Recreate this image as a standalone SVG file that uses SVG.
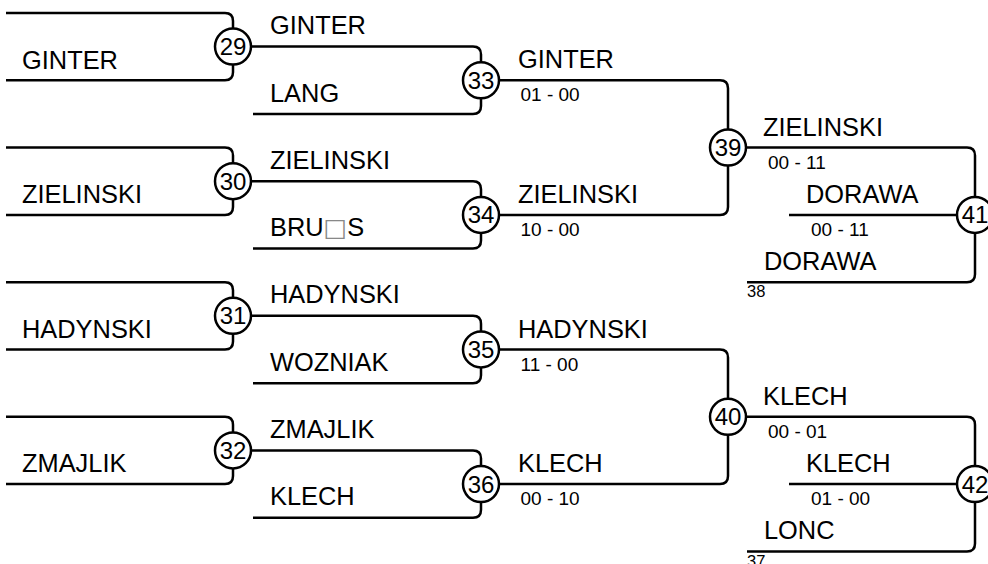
<svg xmlns="http://www.w3.org/2000/svg" width="988" height="564" viewBox="0 0 988 564">
<style>
.ln{fill:none;stroke:#000;stroke-width:2.5;stroke-linecap:butt}
.nd circle{fill:#fff;stroke:#000;stroke-width:2.5}
.nd text{font-family:"Liberation Sans",Arial,sans-serif;font-size:24px;text-anchor:middle;fill:#000}
.nm{font-family:"Liberation Sans",Arial,sans-serif;font-size:25.4px;fill:#000}
.sc{font-family:"Liberation Sans",Arial,sans-serif;font-size:19px;fill:#000}
.sm{font-family:"Liberation Sans",Arial,sans-serif;font-size:16.5px;fill:#000}
.bx{font-family:"DejaVu Sans",sans-serif;font-size:25px;fill:#888}
</style>
<rect width="988" height="564" fill="#fff"/>
<g id="connectors" class="ln">
<path d="M6,13H225Q233,13 233,21V28.6"/><path d="M233,64.6V72.3Q233,80.3 225,80.3H6"/>
<path d="M6,147.6H225Q233,147.6 233,155.6V163.2"/><path d="M233,199.2V206.9Q233,214.9 225,214.9H6"/>
<path d="M6,282.2H225Q233,282.2 233,290.2V297.8"/><path d="M233,333.8V341.5Q233,349.5 225,349.5H6"/>
<path d="M6,416.8H225Q233,416.8 233,424.8V432.4"/><path d="M233,468.4V476.1Q233,484.1 225,484.1H6"/>
<path d="M251,46.6H473Q481,46.6 481,54.6V62.3"/><path d="M481,98.3V106Q481,114 473,114H253"/>
<path d="M251,181.2H473Q481,181.2 481,189.2V196.9"/><path d="M481,232.9V240.6Q481,248.6 473,248.6H253"/>
<path d="M251,315.8H473Q481,315.8 481,323.8V331.5"/><path d="M481,367.5V375.2Q481,383.2 473,383.2H253"/>
<path d="M251,450.4H473Q481,450.4 481,458.4V466.1"/><path d="M481,502.1V509.8Q481,517.8 473,517.8H253"/>
<path d="M499,80.3H720Q728,80.3 728,88.3V129.6"/><path d="M728,165.6V206.9Q728,214.9 720,214.9H499"/>
<path d="M499,349.5H720Q728,349.5 728,357.5V398.8"/><path d="M728,434.8V476.1Q728,484.1 720,484.1H499"/>
<path d="M746,147.6H967Q975,147.6 975,155.6V196.9"/><path d="M789,214.9H957"/><path d="M975,232.9V274.2Q975,282.2 967,282.2H747"/>
<path d="M746,416.8H967Q975,416.8 975,424.8V466.1"/><path d="M789,484.1H957"/><path d="M975,502.1V543.4Q975,551.4 967,551.4H747"/>
</g>
<g id="m29" class="nd"><circle cx="233" cy="46.6" r="18"/><text x="233" y="55">29</text></g>
<g id="m30" class="nd"><circle cx="233" cy="181.2" r="18"/><text x="233" y="189.6">30</text></g>
<g id="m31" class="nd"><circle cx="233" cy="315.8" r="18"/><text x="233" y="324.2">31</text></g>
<g id="m32" class="nd"><circle cx="233" cy="450.4" r="18"/><text x="233" y="458.8">32</text></g>
<g id="m33" class="nd"><circle cx="481" cy="80.3" r="18"/><text x="481" y="88.7">33</text></g>
<g id="m34" class="nd"><circle cx="481" cy="214.9" r="18"/><text x="481" y="223.3">34</text></g>
<g id="m35" class="nd"><circle cx="481" cy="349.5" r="18"/><text x="481" y="357.9">35</text></g>
<g id="m36" class="nd"><circle cx="481" cy="484.1" r="18"/><text x="481" y="492.5">36</text></g>
<g id="m39" class="nd"><circle cx="728" cy="147.6" r="18"/><text x="728" y="156">39</text></g>
<g id="m40" class="nd"><circle cx="728" cy="416.8" r="18"/><text x="728" y="425.2">40</text></g>
<g id="m41" class="nd"><circle cx="975" cy="214.9" r="18"/><text x="975" y="223.3">41</text></g>
<g id="m42" class="nd"><circle cx="975" cy="484.1" r="18"/><text x="975" y="492.5">42</text></g>
<g id="labels">
<text class="nm" x="22" y="68.6">GINTER</text>
<text class="nm" x="22" y="203.2">ZIELINSKI</text>
<text class="nm" x="22" y="337.8">HADYNSKI</text>
<text class="nm" x="22" y="472.4">ZMAJLIK</text>
<text class="nm" x="270" y="34.1">GINTER</text>
<text class="nm" x="270" y="101.5">LANG</text>
<text class="nm" x="270" y="168.7">ZIELINSKI</text>
<text class="nm" x="270" y="236.1">BRU<tspan class="bx">□</tspan>S</text>
<text class="nm" x="270" y="303.3">HADYNSKI</text>
<text class="nm" x="270" y="370.7">WOZNIAK</text>
<text class="nm" x="270" y="437.9">ZMAJLIK</text>
<text class="nm" x="270" y="505.3">KLECH</text>
<text class="nm" x="518" y="68.3">GINTER</text>
<text class="sc" x="520.5" y="101.3">01 - 00</text>
<text class="nm" x="518" y="202.9">ZIELINSKI</text>
<text class="sc" x="520.5" y="235.9">10 - 00</text>
<text class="nm" x="518" y="337.5">HADYNSKI</text>
<text class="sc" x="520.5" y="370.5">11 - 00</text>
<text class="nm" x="518" y="472.1">KLECH</text>
<text class="sc" x="520.5" y="505.1">00 - 10</text>
<text class="nm" x="763" y="135.6">ZIELINSKI</text>
<text class="sc" x="768" y="168.6">00 - 11</text>
<text class="nm" x="806" y="202.9">DORAWA</text>
<text class="sc" x="811" y="235.9">00 - 11</text>
<text class="nm" x="764" y="269.7">DORAWA</text>
<text class="sm" x="747" y="297">38</text>
<text class="nm" x="763" y="404.8">KLECH</text>
<text class="sc" x="768" y="437.8">00 - 01</text>
<text class="nm" x="806" y="472.1">KLECH</text>
<text class="sc" x="811" y="505.1">01 - 00</text>
<text class="nm" x="764" y="538.9">LONC</text>
<text class="sm" x="747" y="566.5">37</text>
</g>
</svg>
